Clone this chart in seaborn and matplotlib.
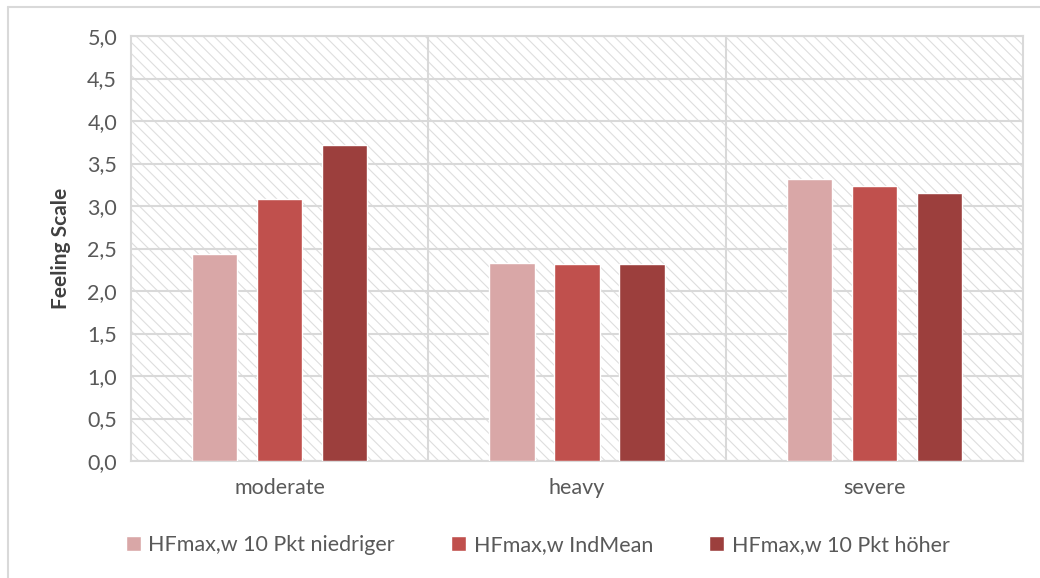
import matplotlib
matplotlib.use("Agg")
import matplotlib.pyplot as plt
from matplotlib.patches import Rectangle
from matplotlib.lines import Line2D
import seaborn as sns
import pandas as pd

categories = ["moderate", "heavy", "severe"]
series = ["HFmax,w 10 Pkt niedriger", "HFmax,w IndMean", "HFmax,w 10 Pkt höher"]
values_low = [2.44, 2.33, 3.32]
values_mean = [3.08, 2.32, 3.24]
values_high = [3.72, 2.32, 3.15]
colors = ["#D9A7A7", "#C0504D", "#9C3F3D"]
yticks = [0.0, 0.5, 1.0, 1.5, 2.0, 2.5, 3.0, 3.5, 4.0, 4.5, 5.0]

df = pd.DataFrame({
    "category": categories * 3,
    "series": [series[0]] * 3 + [series[1]] * 3 + [series[2]] * 3,
    "value": values_low + values_mean + values_high,
})

sns.set_theme(style="white")
plt.rcParams["font.family"] = ["Lato", "DejaVu Sans"]
plt.rcParams["hatch.color"] = "#DEDEDE"
plt.rcParams["hatch.linewidth"] = 0.8

fig = plt.figure(figsize=(10.4, 5.78), dpi=100)
ax = fig.add_axes([131 / 1040, 1 - 461 / 578, (1023 - 131) / 1040, (461 - 36) / 578])

# hatched plot-area background
bg = Rectangle((0, 0), 1, 1, transform=ax.transAxes, facecolor="white",
               edgecolor="#DEDEDE", hatch="\\\\\\", linewidth=0, zorder=0)
ax.add_patch(bg)

sns.barplot(data=df, x="category", y="value", hue="series", order=categories,
            hue_order=series, palette=colors, width=0.656, gap=0.3,
            ax=ax, legend=False, zorder=3, saturation=1)

ax.set_ylim(0, 5)
ax.set_xlim(-0.5, 2.5)
ax.set_yticks(yticks)
ax.set_yticklabels([f"{t:.1f}".replace(".", ",") for t in yticks])
ax.grid(axis="y", color="#D9D9D9", linewidth=1.5, zorder=1)
ax.set_axisbelow(True)
for xb in [0.5, 1.5]:
    ax.axvline(xb, color="#D9D9D9", linewidth=1.5, zorder=1)
for s in ax.spines.values():
    s.set_color("#D9D9D9")
    s.set_linewidth(1.5)
ax.tick_params(axis="both", length=0, labelsize=15.5, colors="#595959", pad=8)
ax.tick_params(axis="y", pad=10)
ax.tick_params(axis="x", pad=12)
ax.set_xlabel("")
ax.set_ylabel("Feeling Scale", fontsize=15, fontweight="bold", color="#404040", labelpad=12)

handles = [Rectangle((0, 0), 1, 1, facecolor=c) for c in colors]
fig.legend(handles, series, loc="center", bbox_to_anchor=(0.517, 1 - 545 / 578),
           ncol=3, frameon=False, fontsize=15.5, labelcolor="#595959",
           handlelength=0.7, handleheight=0.7, handletextpad=0.35, columnspacing=2.6)

# chart frame
fig.add_artist(Line2D([8 / 1040, 8 / 1040], [0, 1 - 7 / 578], transform=fig.transFigure,
                      color="#D9D9D9", linewidth=1.5))
fig.add_artist(Line2D([8 / 1040, 1], [1 - 7 / 578, 1 - 7 / 578], transform=fig.transFigure,
                      color="#D9D9D9", linewidth=1.5))

fig.savefig("out.png", dpi=100, facecolor="white")
